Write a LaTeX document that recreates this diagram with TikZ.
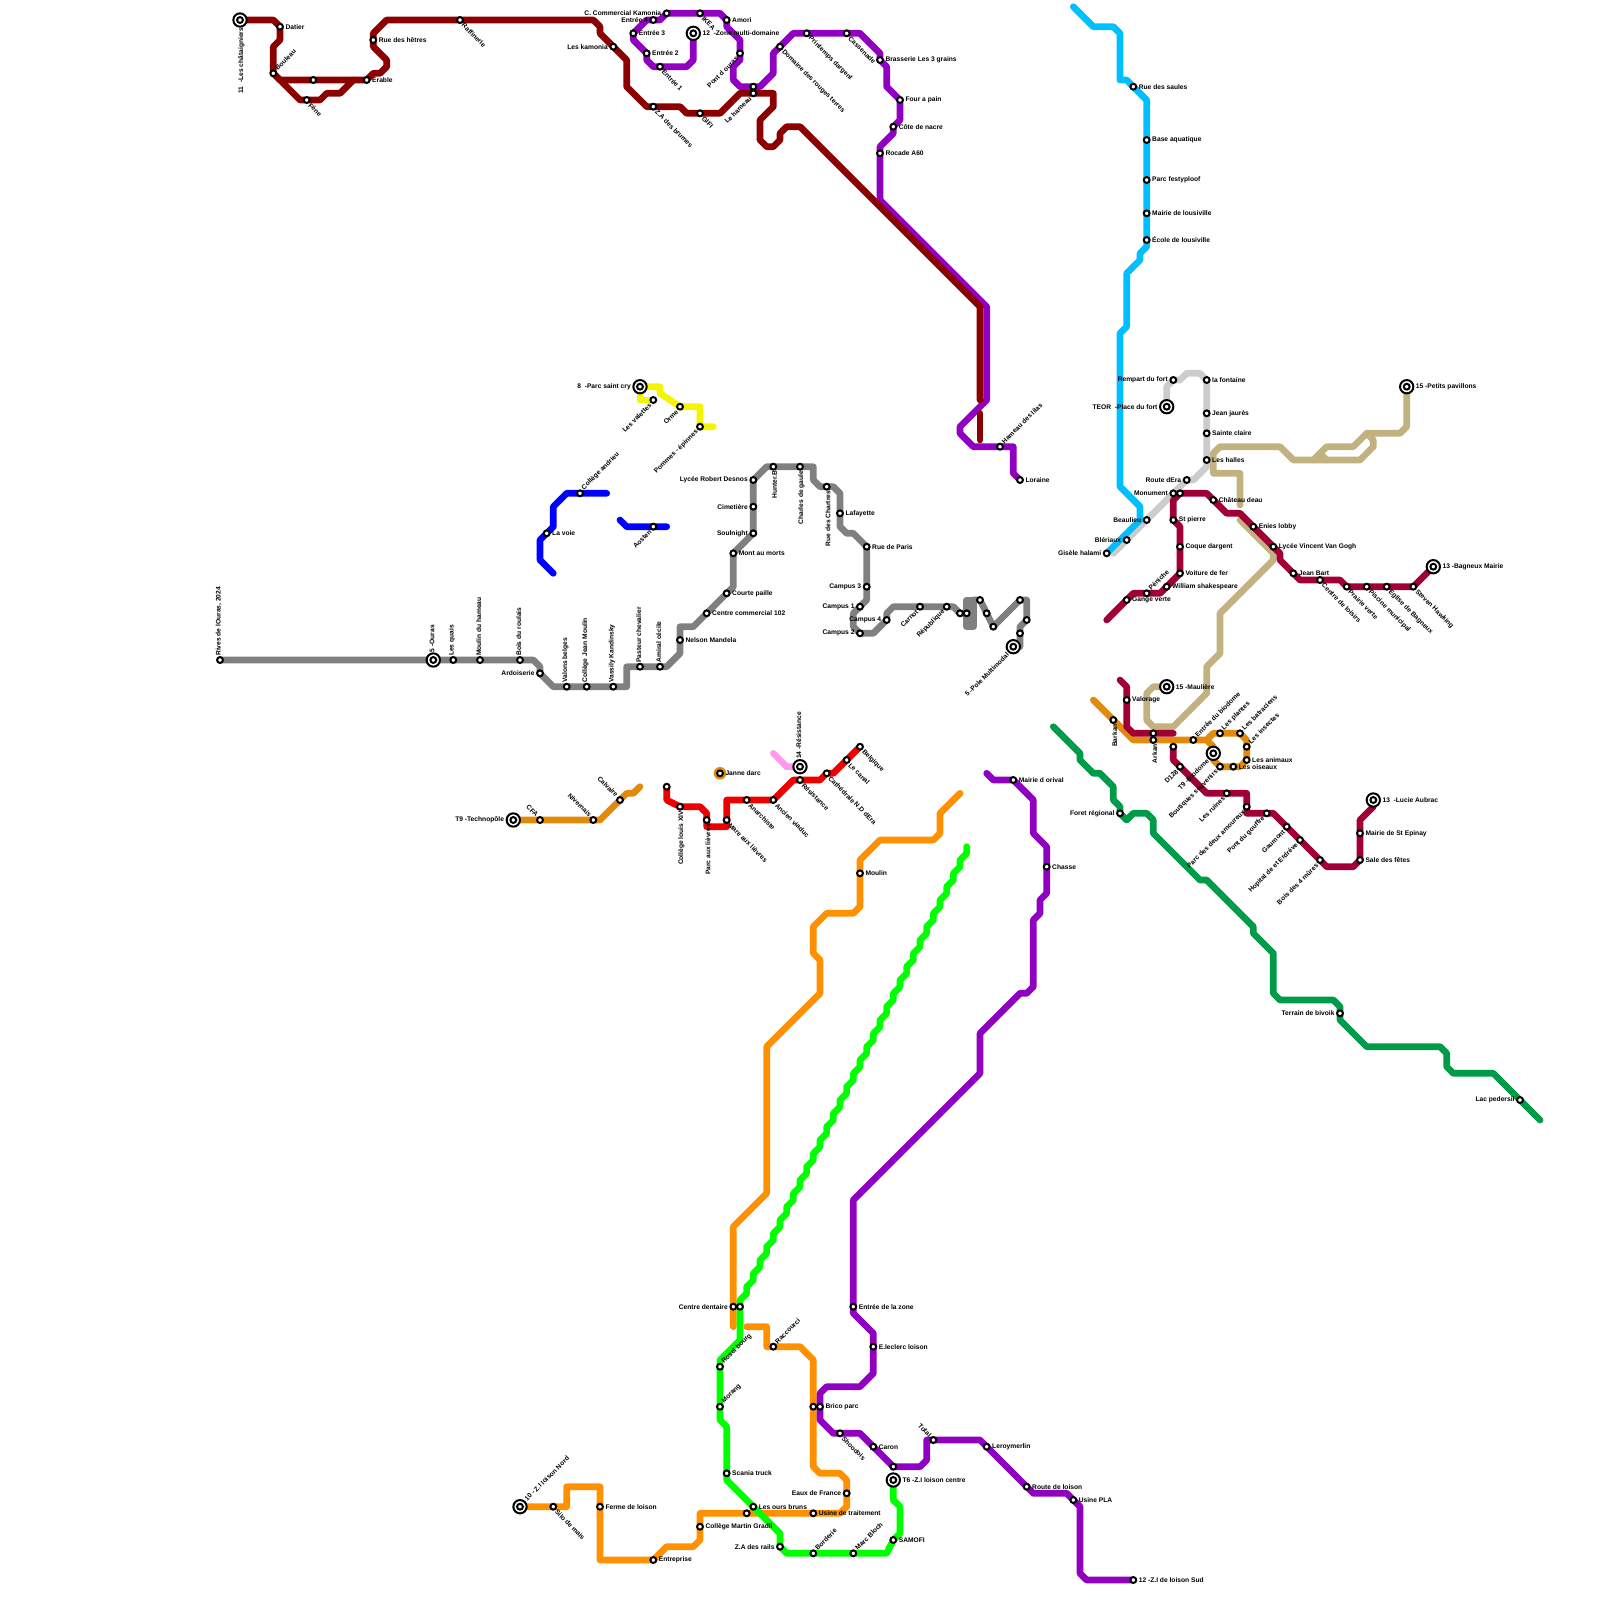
\documentclass[tikz,border=0pt]{standalone}
\usepackage{fontspec}
\setmainfont{Liberation Sans}
\usetikzlibrary{backgrounds}

\definecolor{lnbrick}{HTML}{8B0000}
\definecolor{lnviolet}{HTML}{9000C0}
\definecolor{lnsky}{HTML}{00BFFF}
\definecolor{lnsilver}{HTML}{CCCCCC}
\definecolor{lnsand}{HTML}{C2B280}
\definecolor{lncrimson}{HTML}{A00034}
\definecolor{lnamber}{HTML}{E28A0A}
\definecolor{lnorange}{HTML}{FF9000}
\definecolor{lnred}{HTML}{EE0000}
\definecolor{lnpink}{HTML}{FF99EE}
\definecolor{lngray}{HTML}{808080}
\definecolor{lnblue}{HTML}{0000FF}
\definecolor{lnyellow}{HTML}{F5F500}
\definecolor{lnlime}{HTML}{00FF00}
\definecolor{lnforest}{HTML}{009B48}

\tikzset{
    lbl/.style={font=\fontsize{5}{6}\selectfont\bfseries,inner sep=0pt,text=black,label distance=1pt},
    stn/.style={circle,draw=black,fill=white,line width=1.5pt,inner sep=0pt,minimum size=4.4pt},
    term/.style={circle,draw=black,fill=white,line width=1.5pt,inner sep=0pt,minimum size=10pt,
        path picture={\draw[line width=1.5pt] (path picture bounding box.center) circle (2.2pt);}},
    lr/.style={label={[lbl]right:#1}},
    ll/.style={label={[lbl]left:#1}},
    lu/.style={label={[lbl,rotate=90,anchor=west]90:#1}},
    ld/.style={label={[lbl,rotate=90,anchor=east]270:#1}},
    lur/.style={label={[lbl,rotate=45,anchor=west]45:#1}},
    ldr/.style={label={[lbl,rotate=-45,anchor=west]-45:#1}},
    ldl/.style={label={[lbl,rotate=45,anchor=east]225:#1}},
    lul/.style={label={[lbl,rotate=-45,anchor=east]135:#1}},
    ln/.style={line width=5pt,line cap=round,line join=round}
}

\begin{document}
\begin{tikzpicture}[
                x=0.75pt,
                y=0.75pt,
                yscale=-1,
                xscale=1
            ]
                \useasboundingbox (0,0) rectangle (1600,1600);

                % line 11
                \node[term,ld={11\ \ -Les châtaigniers}] (chataign) at (240,20) {};
                \node[stn,lr={Datier}] (datier) at (280,26.7) {};
                \node[stn,lur={Bouleau}] (bouleau) at (273.3,73.3) {};
                \node[stn] (erablea) at (313.3,80) {};
                \node[stn,lr={Erable}] (erable) at (366.7,80) {};
                \node[stn,ldr={Fène}] (fene) at (306.7,100) {};
                \node[stn,lr={Rue des hêtres}] (hetres) at (373.3,40) {};
                \node[stn,ldr={Raffinerie}] (raffin) at (460,20) {};
                \node[stn,ll={Les kamonia}] (kamonia) at (613.3,46.7) {};
                \node[stn,ldr={Z.A des brumes}] (brumes) at (653.3,106.7) {};
                \node[stn,ldr={GIFI}] (gifi) at (700,113.3) {};
                \node[stn,ldl={Le hameau}] (hameau) at (753.3,93.3) {};

                % line 12
                \node[term,lr={12\ \ -Zone multi-domaine}] (multidom) at (693.3,33.3) {};
                \node[stn,ldr={Entrée 1}] (entree1) at (660,66.7) {};
                \node[stn,lr={Entrée 2}] (entree2) at (646.7,53.3) {};
                \node[stn,lr={Entrée 3}] (entree3) at (633.3,33.3) {};
                \node[stn,ll={Entrée 4}] (entree4) at (653.3,20) {};
                \node[stn,ll={C. Commercial Kamonia}] (commerc) at (666.7,13.3) {};
                \node[stn,ldr={IKEA}] (ikea) at (700,13.3) {};
                \node[stn,lr={Amori}] (amori) at (726.7,20) {};
                \node[stn,ldl={Pont d ouras}] (pontou) at (740,53.3) {};
                \node[stn] (hameaub) at (753.3,86.7) {};
                \node[stn,ldr={Domaine des rouges terres}] (domaine) at (780,46.7) {};
                \node[stn,ldr={Printemps dargent}] (printemps) at (806.7,33.3) {};
                \node[stn,ldr={Cassenade}] (cassen) at (846.7,33.3) {};
                \node[stn,lr={Brasserie Les 3 grains}] (brasserie) at (880,60) {};
                \node[stn,lr={Four a pain}] (four) at (900,100) {};
                \node[stn,lr={Côte de nacre}] (nacre) at (893.3,126.7) {};
                \node[stn,lr={Rocade A60}] (rocade) at (880,153.3) {};
                \node[stn,lur={Hameau des lilas}] (lilas) at (1000,446.7) {};
                \node[stn,lr={Loraine}] (loraine) at (1020,480) {};

                % lower violet line
                \node[stn,lr={Mairie d orival}] (orival) at (1013.3,780) {};
                \node[stn,lr={Chasse}] (chasse) at (1046.7,866.7) {};
                \node[stn,lr={Entrée de la zone}] (zone) at (853.3,1306.7) {};
                \node[stn,lr={E.leclerc loison}] (leclerc) at (873.3,1346.7) {};
                \node[stn,lr={Brico parc}] (brico) at (820,1406.7) {};
                \node[stn,ldr={Shoodois}] (shoodois) at (840,1433.3) {};
                \node[stn,lr={Caron}] (caron) at (873.3,1446.7) {};
                \node[stn] (loisona) at (893.3,1466.7) {};
                \node[stn,lul={Total}] (total) at (933.3,1440) {};
                \node[stn,lr={Leroymerlin}] (leroy) at (986.7,1446.7) {};
                \node[stn,lr={Route de loison}] (rloison) at (1026.7,1486.7) {};
                \node[stn,lr={Usine PLA}] (usinepla) at (1073.3,1500) {};
                \node[stn,lr={12 -Z.I de loison Sud}] (loisonsud) at (1133.3,1580) {};

                % sky and silver lines
                \node[stn,lr={Rue des saules}] (saules) at (1133.3,86.7) {};
                \node[stn,lr={Base aquatique}] (base) at (1146.7,140) {};
                \node[stn,lr={Parc festyploof}] (festy) at (1146.7,180) {};
                \node[stn,lr={Mairie de lousiville}] (mairiel) at (1146.7,213.3) {};
                \node[stn,lr={École de lousiville}] (ecole) at (1146.7,240) {};
                \node[stn,ll={Gisèle halami}] (gisele) at (1106.7,553.3) {};
                \node[stn,ll={Blériaux}] (bleriaux) at (1126.7,540) {};
                \node[stn,ll={Beaulieu}] (beaulieu) at (1146.7,520) {};
                \node[stn,ll={Monument}] (monument) at (1173.3,493.3) {};
                \node[stn] (monumentb) at (1180,493.3) {};
                \node[stn,ll={Route dEra}] (routeera) at (1186.7,480) {};
                \node[stn,lr={Les halles}] (halles) at (1206.7,460) {};
                \node[stn,lr={Sainte claire}] (sclaire) at (1206.7,433.3) {};
                \node[stn,lr={Jean jaurès}] (jaures) at (1206.7,413.3) {};
                \node[stn,lr={la fontaine}] (fontaine) at (1206.7,380) {};
                \node[stn,ll={Rempart du fort}] (rempart) at (1173.3,380) {};
                \node[term,ll={TEOR\ \ -Place du fort}] (placefort) at (1166.7,406.7) {};

                % sand line
                \node[term,lr={15 -Petits pavillons}] (pavillons) at (1406.7,386.7) {};
                \node[term,lr={15 -Maulière}] (mauliere) at (1166.7,686.7) {};

                % line 13 upper
                \node[stn,lr={Gange verte}] (gange) at (1126.7,600) {};
                \node[stn,lur={Péniche}] (peniche) at (1146.7,593.3) {};
                \node[stn,lr={William shakespeare}] (william) at (1166.7,586.7) {};
                \node[stn,lr={Voiture de fer}] (voiture) at (1180,573.3) {};
                \node[stn,lr={Coque dargent}] (coque) at (1180,546.7) {};
                \node[stn,lr={St pierre}] (stpierre) at (1173.3,520) {};
                \node[stn,lr={Château deau}] (chateau) at (1213.3,500) {};
                \node[stn,lr={Enies lobby}] (enies) at (1253.3,526.7) {};
                \node[stn,lr={Lycée Vincent Van Gogh}] (vangogh) at (1273.3,546.7) {};
                \node[stn,lr={Jean Bart}] (jeanbart) at (1293.3,573.3) {};
                \node[stn,ldr={Centre de loisirs}] (loisirs) at (1320,580) {};
                \node[stn,ldr={Prairie verte}] (prairie) at (1346.7,586.7) {};
                \node[stn,ldr={Piscine municipal}] (piscine) at (1366.7,586.7) {};
                \node[stn,ldr={Eglise de Bagneux}] (eglise) at (1386.7,586.7) {};
                \node[stn,ldr={Steven Hawking}] (hawking) at (1413.3,586.7) {};
                \node[term,lr={13 -Bagneux Mairie}] (bagneux) at (1433.3,566.7) {};

                % line 13 lower and biodome
                \node[stn,lr={Valorage}] (valorage) at (1126.7,700) {};
                \node[stn,ld={Barkan}] (barkan) at (1113.3,720) {};
                \node[stn] (arkanb) at (1153.3,733.3) {};
                \node[stn,ld={Arkan}] (arkan) at (1153.3,740) {};
                \node[stn,lur={Entrée du biodome}] (entreebio) at (1193.3,740) {};
                \node[stn,lur={Les plantes}] (plantes) at (1220,733.3) {};
                \node[stn,lur={Les batraciens}] (batrac) at (1240,733.3) {};
                \node[stn,lur={Les insectes}] (insectes) at (1246.7,746.7) {};
                \node[stn,lr={Les animaux}] (animaux) at (1246.7,760) {};
                \node[stn,lr={Les oiseaux}] (oiseaux) at (1233.3,766.7) {};
                \node[stn,ldl={Boutiques souvenirs}] (boutiques) at (1220,766.7) {};
                \node[term,ldl={T9 -Biodome}] (biodome) at (1213.3,753.3) {};
                \node[stn] (crimsa) at (1173.3,746.7) {};
                \node[stn,ldl={D128}] (dcent) at (1180,766.7) {};
                \node[stn,ldl={Les ruines}] (ruines) at (1226.7,793.3) {};
                \node[stn,ldl={Parc des deux amoureux}] (amoureux) at (1246.7,806.7) {};
                \node[stn,ldl={Pont du gouffre}] (gouffre) at (1266.7,813.3) {};
                \node[stn,ldl={Gaumont}] (gaumont) at (1286.7,826.7) {};
                \node[stn,ldl={Hopital de et Erdréve}] (hopital) at (1300,840) {};
                \node[stn,ldl={Bois des 4 mûres}] (bois) at (1320,860) {};
                \node[stn,lr={Sale des fêtes}] (sale) at (1360,860) {};
                \node[stn,lr={Mairie de St Epinay}] (epinay) at (1360,833.3) {};
                \node[term,lr={13\ \ -Lucie Aubrac}] (aubrac) at (1373.3,800) {};

                % forest line
                \node[stn,ll={Foret régional}] (foret) at (1120,813.3) {};
                \node[stn,ll={Terrain de bivoik}] (bivoik) at (1340,1013.3) {};
                \node[stn,ll={Lac pedersil}] (pedersil) at (1520,1100) {};

                % gray line
                \node[stn,lu={Rives de lOuras, 2024}] (rives) at (220,660) {};
                \node[term,lu={5 -Ouras}] (ouras) at (433.3,660) {};
                \node[stn,lu={Les quais}] (quais) at (453.3,660) {};
                \node[stn,lu={Moulin du hameau}] (moulinh) at (480,660) {};
                \node[stn,lu={Bois du roulais}] (roulais) at (520,660) {};
                \node[stn,ll={Ardoiserie}] (ardois) at (540,673.3) {};
                \node[stn,lu={Valons belges}] (valons) at (566.7,686.7) {};
                \node[stn,lu={Collège Jean Moulin}] (cmoulin) at (586.7,686.7) {};
                \node[stn,lu={Vassily Kandinsky}] (kandinsky) at (613.3,686.7) {};
                \node[stn,lu={Pasteur chevalier}] (pasteur) at (640,666.7) {};
                \node[stn,lu={Amiral cécile}] (amiral) at (660,666.7) {};
                \node[stn,lr={Nelson Mandela}] (mandela) at (680,640) {};
                \node[stn,lr={Centre commercial 102}] (centre) at (706.7,613.3) {};
                \node[stn,lr={Courte paille}] (courte) at (726.7,593.3) {};
                \node[stn,lr={Mont au morts}] (morts) at (733.3,553.3) {};
                \node[stn,ll={Soulnight}] (soulnight) at (753.3,533.3) {};
                \node[stn,ll={Cimetière}] (cimetiere) at (753.3,506.7) {};
                \node[stn,ll={Lycée Robert Desnos}] (desnos) at (753.3,480) {};
                \node[stn,ld={Hunter.B}] (hunter) at (773.3,466.7) {};
                \node[stn,ld={Charles de gaule}] (gaule) at (800,466.7) {};
                \node[stn,ld={Rue des Chartres}] (chartres) at (826.7,486.7) {};
                \node[stn,lr={Lafayette}] (lafayette) at (840,513.3) {};
                \node[stn,lr={Rue de Paris}] (paris) at (866.7,546.7) {};
                \node[stn,ll={Campus 3}] (campusc) at (866.7,586.7) {};
                \node[stn,ll={Campus 1}] (campusa) at (860,606.7) {};
                \node[stn,ll={Campus 2}] (campusb) at (860,633.3) {};
                \node[stn,ll={Campus 4}] (campusd) at (886.7,620) {};
                \node[stn,ldl={Carnot}] (carnot) at (920,606.7) {};
                \node[stn,ldl={République}] (republ) at (946.7,606.7) {};
                \node[stn] (poleb) at (960,613.3) {};
                \node[stn] (polec) at (966.7,613.3) {};
                \node[stn] (poled) at (980,600) {};
                \node[stn] (polee) at (986.7,613.3) {};
                \node[stn] (polef) at (993.3,626.7) {};
                \node[stn] (poleg) at (1020,600) {};
                \node[stn] (poleh) at (1026.7,620) {};
                \node[stn] (polei) at (1020,633.3) {};
                \node[term,ldl={5 -Pole Multimodal}] (pole) at (1013.3,646.7) {};

                % blue and yellow lines
                \node[stn,lr={La voie}] (lavoie) at (546.7,533.3) {};
                \node[stn,lur={Collège andrieu}] (andrieu) at (580,493.3) {};
                \node[stn,ldl={Aosten}] (aosten) at (653.3,526.7) {};
                \node[term,ll={8\ \ -Parc saint cry}] (saintcry) at (640,386.7) {};
                \node[stn,ldl={Les valettes}] (valettes) at (653.3,400) {};
                \node[stn,ldl={Orme}] (orme) at (680,406.7) {};
                \node[stn,ldl={Pommes - épinnes}] (pommes) at (700,426.7) {};

                % red line
                \node[stn] (redstart) at (666.7,786.7) {};
                \node[stn,ld={Collège louis XIV}] (louis) at (680,806.7) {};
                \node[stn,ld={Parc aux lièvres}] (parcl) at (706.7,820) {};
                \node[stn,ldr={Mare aux lièvres}] (marel) at (726.7,820) {};
                \node[stn,ldr={Anarchiste}] (anarch) at (746.7,800) {};
                \node[stn,ldr={Ancien viaduc}] (viaduc) at (773.3,800) {};
                \node[stn,ldr={Résistance}] (resist) at (800,780) {};
                \node[term,lu={14 -Résistance}] (resterm) at (800,766.7) {};
                \node[stn,ldr={Cathédrale N.D dEra}] (cathed) at (826.7,773.3) {};
                \node[stn,ldr={Le canal}] (canal) at (846.7,760) {};
                \node[stn,ldr={Belgique}] (belgique) at (860,746.7) {};

                % amber line
                \node[term,ll={T9 -Technopôle}] (techno) at (513.3,820) {};
                \node[stn,lul={CFA}] (cfa) at (540,820) {};
                \node[stn,lul={Nivernais}] (nivernais) at (593.3,820) {};
                \node[stn,lul={Calvaire}] (calvaire) at (620,800) {};

                % orange line
                \node[circle,fill=lnamber,inner sep=0pt,minimum size=9.5pt] (darcdot) at (720,773.3) {};
                \node[stn,lr={Janne darc}] (darc) at (720,773.3) {};
                \node[stn,lr={Moulin}] (moulin) at (860,873.3) {};
                \node[stn,ll={Centre dentaire}] (dentaire) at (733.3,1306.7) {};
                \node[stn] (dentaireb) at (740,1306.7) {};
                \node[stn,lur={Raccourci}] (raccourci) at (773.3,1346.7) {};
                \node[stn] (bricob) at (813.3,1406.7) {};
                \node[stn,ll={Eaux de France}] (eaux) at (846.7,1493.3) {};
                \node[stn,lr={Usine de traitement}] (usine) at (813.3,1513.3) {};
                \node[stn] (oursb) at (746.7,1513.3) {};
                \node[stn,lr={Collège Martin Gradli}] (gradli) at (700,1526.7) {};
                \node[stn,lr={Entreprise}] (entreprise) at (653.3,1560) {};
                \node[stn,lr={Ferme de loison}] (ferme) at (600,1506.7) {};
                \node[stn,ldr={Silo de mais}] (silo) at (553.3,1506.7) {};
                \node[term,lur={10 - Z.I loison Nord}] (loisonnord) at (520,1506.7) {};

                % lime line
                \node[stn,lur={Rosel bourg}] (rosel) at (720,1366.7) {};
                \node[stn,lur={Morang}] (morang) at (720,1406.7) {};
                \node[stn,lr={Scania truck}] (scania) at (726.7,1473.3) {};
                \node[stn,lr={Les ours bruns}] (ours) at (753.3,1506.7) {};
                \node[stn,ll={Z.A des rails}] (rails) at (780,1546.7) {};
                \node[stn,lur={Borderie}] (borderie) at (813.3,1553.3) {};
                \node[stn,lur={Marc Bloch}] (bloch) at (853.3,1553.3) {};
                \node[stn,lr={SAMOFI}] (samofi) at (893.3,1540) {};
                \node[term,lr={T6 -Z.I loison centre}] (loisonc) at (893.3,1480) {};

                \begin{scope}[on background layer]
                \draw[ln,lnsand] (pavillons.center) -- (1406.7,426.7) -- (1400,433.3) -- (1366.7,433.3) -- (1353.3,446.7) -- (1326.7,446.7) -- (1313.3,460);
                \draw[ln,lnsand] (1366.7,433.3) -- (1373.3,440) -- (1373.3,446.7) -- (1360,460) -- (1293.3,460) -- (1280,446.7) -- (1220,446.7) -- (1213.3,453.3) -- (1213.3,473.3) -- (1240,473.3) -- (1240,505);
                \draw[ln,lnsand] (1320,453.3) -- (1326.7,460);
                \draw[ln,lnsand] (1240,520) -- (1273.3,553.3) -- (1273.3,560) -- (1220,613.3) -- (1220,653.3) -- (1206.7,666.7) -- (1206.7,693.3) -- (1173.3,726.7) -- (1153.3,726.7) -- (1146.7,720) -- (1146.7,693.3) -- (1153.3,686.7) -- (mauliere.center);

                \draw[ln,lnsilver] (placefort.center) -- (1166.7,386.7) -- (rempart.center) -- (1180,380) -- (1186.7,373.3) -- (1200,373.3) -- (fontaine.center) -- (1206.7,466.7) -- (1193.3,480) -- (routeera.center) -- (1113.3,553.3);

                \draw[ln,lnsky] (1073.3,6.7) -- (1093.3,26.7) -- (1113.3,26.7) -- (1120,33.3) -- (1120,80) -- (1126.7,80) -- (saules.center) -- (1146.7,100) -- (ecole.center) -- (1146.7,246.7) -- (1140,253.3) -- (1140,260) -- (1126.7,273.3) -- (1126.7,326.7) -- (1120,333.3) -- (1120,486.7) -- (1140,506.7) -- (1140,520) -- (gisele.center);

                \draw[ln,lngray] (rives.center) -- (533.3,660) -- (540,666.7) -- (ardois.center) -- (553.3,686.7) -- (626.7,686.7) -- (626.7,666.7) -- (amiral.center) -- (666.7,666.7) -- (680,653.3) -- (680,626.7) -- (693.3,626.7) -- (733.3,586.7) -- (morts.center) -- (soulnight.center) -- (desnos.center) -- (766.7,466.7) -- (813.3,466.7) -- (813.3,480) -- (820,486.7) -- (833.3,486.7) -- (840,493.3) -- (840,526.7) -- (846.7,533.3) -- (853.3,533.3) -- (paris.center) -- (866.7,600) -- (853.3,613.3) -- (853.3,626.7) -- (campusb.center) -- (873.3,633.3) -- (campusd.center) -- (886.7,613.3) -- (893.3,606.7) -- (953.3,606.7) -- (poleb.center) -- (polec.center);
                \draw[ln,lngray] (966.7,600) rectangle (973.3,626.7);
                \draw[ln,lngray] (973.3,600) -- (poled.center) -- (polee.center) -- (polef.center) -- (poleg.center) -- (1026.7,600) -- (poleh.center) -- (1020,626.7) -- (1020,646.7);

                \draw[ln,lnblue] (553.3,573.3) -- (540,560) -- (540,540) -- (lavoie.center) -- (553.3,526.7) -- (553.3,506.7) -- (566.7,493.3) -- (606.7,493.3);
                \draw[ln,lnblue] (620,520) -- (626.7,526.7) -- (666.7,526.7);

                \draw[ln,lnyellow] (saintcry.center) -- (660,386.7) -- (660,393.3) -- (orme.center) -- (700,406.7) -- (pommes.center) -- (713.3,426.7);
                \draw[ln,lnyellow] (saintcry.center) -- (640,400) -- (valettes.center);

                \draw[ln,lnpink] (773.3,753.3) -- (786.7,766.7) -- (resterm.center);

                \draw[ln,lnamber] (techno.center) -- (600,820) -- (calvaire.center) -- (626.7,793.3) -- (633.3,793.3) -- (640,786.7);
                \draw[ln,lnamber] (1093.3,700) -- (1133.3,740) -- (1206.7,740) -- (1213.3,733.3) -- (batrac.center) -- (1246.7,740) -- (animaux.center) -- (1240,766.7) -- (boutiques.center) -- (1213.3,760) -- (1213.3,746.7) -- (1206.7,740);

                \draw[ln,lnorange] (960,793.3) -- (940,813.3) -- (940,833.3) -- (933.3,840) -- (880,840) -- (860,860) -- (860,906.7) -- (853.3,913.3) -- (826.7,913.3) -- (813.3,926.7) -- (813.3,953.3) -- (820,960) -- (820,993.3) -- (766.7,1046.7) -- (766.7,1193.3) -- (733.3,1226.7) -- (733.3,1326.7);
                \draw[ln,lnorange] (746.7,1326.7) -- (766.7,1326.7) -- (766.7,1346.7) -- (800,1346.7) -- (813.3,1360) -- (813.3,1466.7) -- (820,1473.3) -- (840,1473.3) -- (846.7,1480) -- (846.7,1506.7) -- (840,1513.3) -- (700,1513.3) -- (700,1540) -- (693.3,1546.7) -- (666.7,1546.7) -- (entreprise.center) -- (600,1560) -- (600,1486.7) -- (566.7,1486.7) -- (566.7,1506.7) -- (loisonnord.center);

                \draw[ln,lnlime] (966.7,846.7) \foreach \i in {1,...,34} { -- ++(0,6.67) -- ++(-6.67,6.67) } -- (740,1340) -- (720,1360) -- (720,1420) -- (726.7,1426.7) -- (726.7,1480) -- (780,1533.3) -- (rails.center) -- (786.7,1553.3) -- (886.7,1553.3) -- (samofi.center) -- (900,1533.3) -- (900,1506.7) -- (893.3,1500) -- (loisonc.center);

                \draw[ln,lnviolet] (multidom.center) -- (693.3,60) -- (686.7,66.7) -- (653.3,66.7) -- (646.7,60) -- (entree2.center) -- (633.3,40) -- (entree3.center) -- (646.7,20) -- (660,20) -- (commerc.center) -- (720,13.3) -- (amori.center) -- (726.7,26.7) -- (740,40) -- (740,60) -- (733.3,66.7) -- (733.3,80) -- (740,86.7) -- (760,86.7) -- (773.3,73.3) -- (773.3,53.3) -- (793.3,33.3) -- (860,33.3) -- (880,53.3) -- (brasserie.center) -- (886.7,66.7) -- (886.7,86.7) -- (four.center) -- (900,120) -- (893.3,126.7) -- (893.3,133.3) -- (880,146.7) -- (880,200) -- (986.7,306.7) -- (986.7,400) -- (960,426.7) -- (960,433.3) -- (973.3,446.7) -- (1013.3,446.7) -- (1013.3,473.3) -- (loraine.center);
                \draw[ln,lnviolet] (986.7,773.3) -- (993.3,780) -- (orival.center) -- (1033.3,800) -- (1033.3,833.3) -- (1046.7,846.7) -- (1046.7,893.3) -- (1040,900) -- (1040,913.3) -- (1033.3,920) -- (1033.3,986.7) -- (1026.7,993.3) -- (1020,993.3) -- (980,1033.3) -- (980,1073.3) -- (853.3,1200) -- (853.3,1313.3) -- (873.3,1333.3) -- (873.3,1373.3) -- (860,1386.7) -- (826.7,1386.7) -- (820,1393.3) -- (820,1420) -- (833.3,1433.3) -- (860,1433.3) -- (loisona.center) -- (920,1466.7) -- (926.7,1460) -- (926.7,1440) -- (980,1440) -- (leroy.center) -- (rloison.center) -- (1033.3,1493.3) -- (1066.7,1493.3) -- (1080,1506.7) -- (1080,1573.3) -- (1086.7,1580) -- (loisonsud.center);

                \draw[ln,lnbrick] (chataign.center) -- (273.3,20) -- (datier.center) -- (280,40) -- (273.3,46.7) -- (bouleau.center) -- (280,80) -- (erable.center) -- (373.3,73.3) -- (380,73.3) -- (386.7,66.7) -- (386.7,60) -- (373.3,46.7) -- (373.3,33.3) -- (386.7,20) -- (593.3,20) -- (600,26.7) -- (600,33.3) -- (kamonia.center) -- (626.7,60) -- (626.7,86.7) -- (646.7,106.7) -- (680,106.7) -- (686.7,113.3) -- (720,113.3) -- (740,93.3) -- (773.3,93.3) -- (773.3,106.7) -- (760,120) -- (760,140) -- (766.7,146.7) -- (773.3,146.7) -- (780,140) -- (780,133.3) -- (786.7,126.7) -- (800,126.7) -- (980,306.7) -- (980,400);
                \draw[ln,lnbrick] (bouleau.center) -- (300,100) -- (320,100) -- (326.7,93.3) -- (340,93.3) -- (353.3,80);
                \draw[ln,lnbrick] (980,413.3) -- (980,440);

                \draw[ln,lncrimson] (1106.7,620) -- (1133.3,593.3) -- (1160,593.3) -- (voiture.center) -- (1180,526.7) -- (stpierre.center) -- (1173.3,500) -- (monumentb.center) -- (1206.7,493.3) -- (1226.7,513.3) -- (1240,513.3) -- (1280,553.3) -- (1280,560) -- (1300,580) -- (1340,580) -- (prairie.center) -- (hawking.center) -- (bagneux.center);
                \draw[ln,lncrimson] (1120,680) -- (1126.7,686.7) -- (1126.7,726.7) -- (1133.3,733.3) -- (1173.3,733.3);
                \draw[ln,lncrimson] (crimsa.center) -- (1173.3,760) -- (1206.7,793.3) -- (1246.7,793.3) -- (1246.7,813.3) -- (1273.3,813.3) -- (1326.7,866.7) -- (1353.3,866.7) -- (sale.center) -- (1360,820) -- (1373.3,806.7) -- (aubrac.center);

                \draw[ln,lnred] (redstart.center) -- (666.7,800) -- (louis.center) -- (700,806.7) -- (706.7,813.3) -- (706.7,826.7) -- (726.7,826.7) -- (726.7,800) -- (viaduc.center) -- (793.3,780) -- (820,780) -- (cathed.center) -- (833.3,773.3) -- (belgique.center);

                \draw[ln,lnforest] (1053.3,726.7) -- (1080,753.3) -- (1080,760) -- (1093.3,773.3) -- (1100,773.3) -- (1113.3,786.7) -- (1113.3,800) -- (1120,806.7) -- (foret.center) -- (1126.7,820) -- (1133.3,813.3) -- (1146.7,813.3) -- (1153.3,820) -- (1153.3,833.3) -- (1200,880) -- (1206.7,880) -- (1253.3,926.7) -- (1253.3,933.3) -- (1273.3,953.3) -- (1273.3,993.3) -- (1280,1000) -- (1333.3,1000) -- (1340,1006.7) -- (1340,1020) -- (1366.7,1046.7) -- (1440,1046.7) -- (1446.7,1053.3) -- (1446.7,1066.7) -- (1453.3,1073.3) -- (1493.3,1073.3) -- (1540,1120);
                \end{scope}
            \end{tikzpicture}
\end{document}
